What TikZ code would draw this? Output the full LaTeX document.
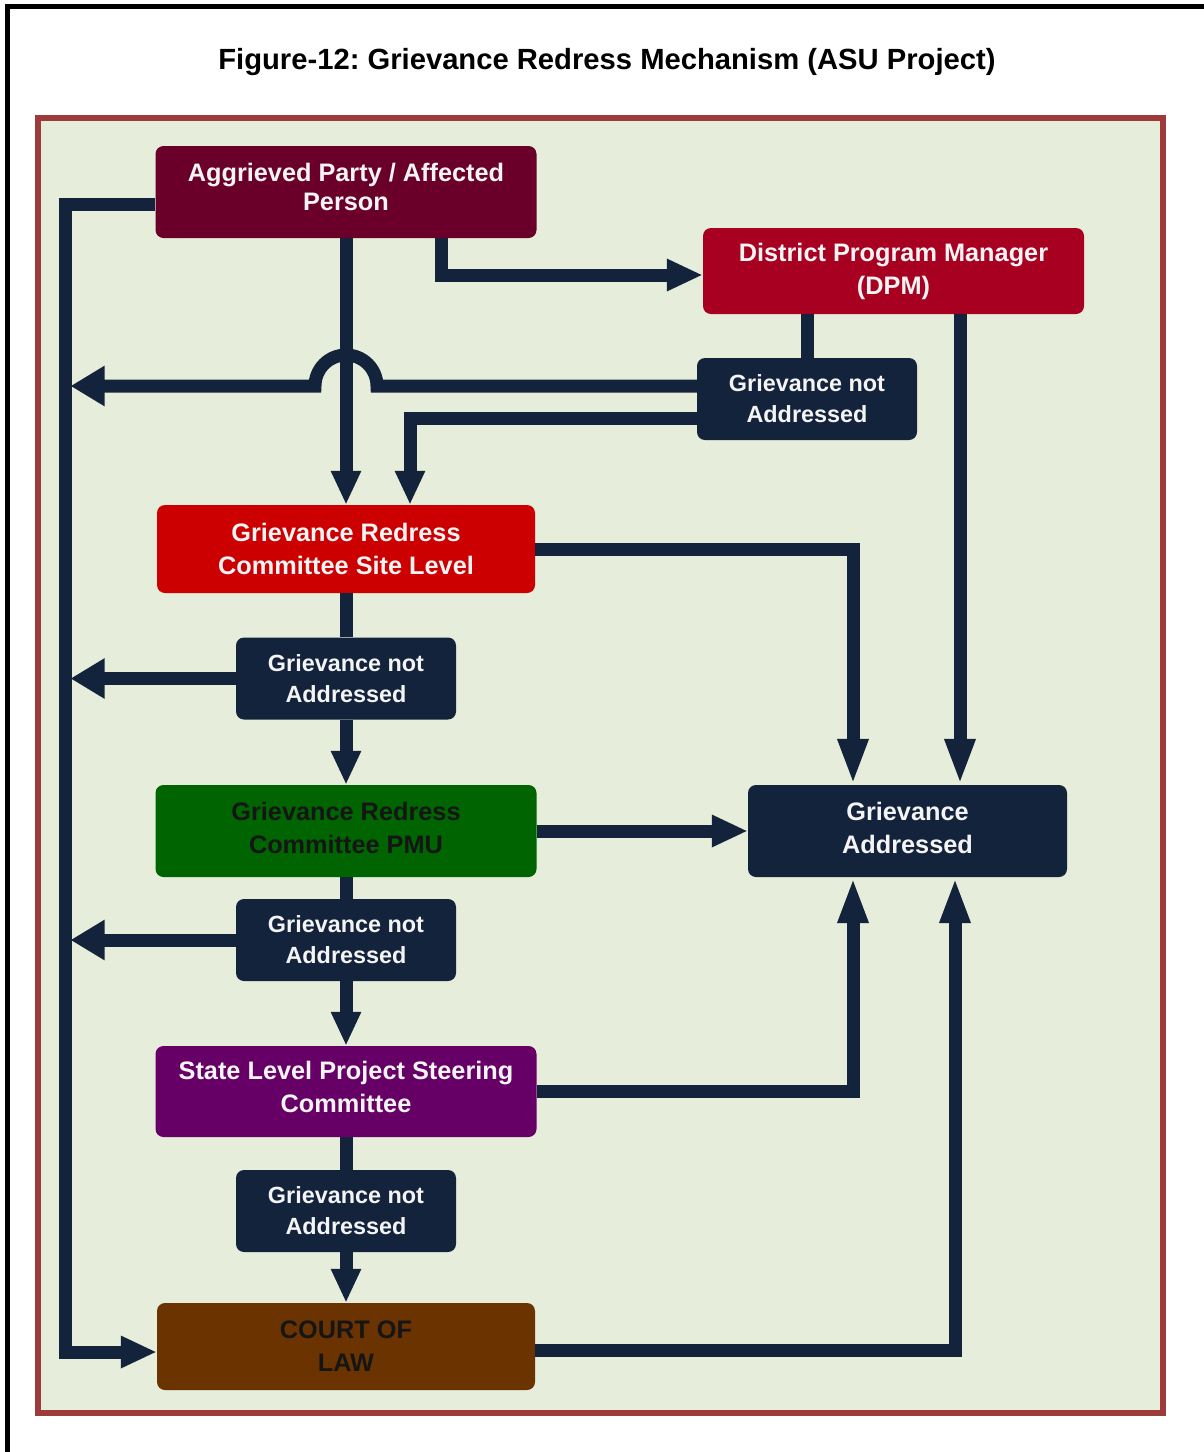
\documentclass[tikz,border=0pt]{standalone}
\usepackage{fontspec}
\setmainfont{Liberation Sans}
\usetikzlibrary{arrows.meta}
\frenchspacing
\definecolor{navy}{HTML}{13233B}
\definecolor{framered}{HTML}{9E3A3A}
\definecolor{framefill}{HTML}{E6EDDB}
\definecolor{aggcol}{HTML}{6A0029}
\definecolor{dpmcol}{HTML}{A80020}
\definecolor{sitecol}{HTML}{CC0000}
\definecolor{pmucol}{HTML}{006400}
\definecolor{slcol}{HTML}{660066}
\definecolor{courtcol}{HTML}{6B3300}
\definecolor{txtwhite}{HTML}{F4F4F4}
\definecolor{txtdark}{HTML}{151515}
\begin{document}
\begin{tikzpicture}[x=1pt,y=-1pt,
  box/.style={rounded corners=8pt, inner sep=0pt, align=center, text=txtwhite,
    font=\fontsize{25.3}{33}\selectfont\bfseries},
  gbox/.style={box, fill=navy, minimum width=220pt, minimum height=82pt,
    font=\fontsize{23.4}{31}\selectfont\bfseries},
  conn/.style={draw=navy, line width=13pt, line join=miter},
  arrR/.style={-{Triangle[width=30pt,length=36pt]}},
  arrL/.style={-{Triangle[width=38pt,length=34pt]}},
  arrD/.style={-{Triangle[width=28pt,length=34pt]}},
  arrG/.style={-{Triangle[width=28pt,length=46pt]}}]
\useasboundingbox (0,0) rectangle (1203,1452);
\fill[white] (0,0) rectangle (1203,1452);
% outer black border
\draw[black, line width=5pt] (7.5,1460) -- (7.5,6.5) -- (1210,6.5);
% title
\node[font=\fontsize{29.2}{35}\selectfont\bfseries] (title) at (607,62) {Figure-12: Grievance Redress Mechanism (ASU Project)};
% frame
\draw[draw=framered, fill=framefill, line width=6pt] (38,118) rectangle (1163,1413);

% nodes
\node[box, fill=aggcol, minimum width=381pt, minimum height=92pt, text depth=11pt,
  font=\fontsize{25.3}{29}\selectfont\bfseries] (agg) at (346,192) {Aggrieved Party / Affected\\Person};
\node[box, fill=dpmcol, minimum width=381pt, minimum height=86pt] (dpm) at (893.5,271) {District Program Manager\\(DPM)};
\node[gbox] (gna1) at (807,399) {Grievance not\\Addressed};
\node[box, fill=sitecol, minimum width=378pt, minimum height=88pt] (site) at (346,549) {Grievance Redress\\Committee Site Level};
\node[gbox] (gna2) at (346,678.5) {Grievance not\\Addressed};
\node[box, fill=pmucol, text=txtdark, minimum width=381pt, minimum height=92pt, text depth=7pt] (pmu) at (346,831) {Grievance Redress\\Committee PMU};
\node[box, fill=navy, minimum width=319pt, minimum height=92pt, text depth=7pt] (ga) at (907.5,831) {Grievance\\Addressed};
\node[gbox] (gna3) at (346,940) {Grievance not\\Addressed};
\node[box, fill=slcol, minimum width=381pt, minimum height=91pt, text depth=9pt] (sl) at (346,1091.5) {State Level Project Steering\\Committee};
\node[gbox] (gna4) at (346,1211) {Grievance not\\Addressed};
\node[box, fill=courtcol, text=txtdark, minimum width=378pt, minimum height=87pt] (court) at (346,1346.5) {COURT OF\\LAW};

% trunk coordinates
\coordinate (lt) at (65,204);
\coordinate (lb) at (65,1352);
\coordinate (tr) at (70.5,0);
\coordinate (hopend) at (70.5,386);

% left trunk from aggrieved to court
\draw[conn, arrR] ([yshift=-12pt]agg.west) -- (lt) -- (lb) -- ([yshift=-5.5pt]court.west);
% main chain
\draw[conn, arrD] (agg.south) -- (site.north);
\draw[conn] (site.south) -- (gna2.north);
\draw[conn, arrD] (gna2.south) -- (pmu.north);
\draw[conn] (pmu.south) -- (gna3.north);
\draw[conn, arrD] (gna3.south) -- (sl.north);
\draw[conn] (sl.south) -- (gna4.north);
\draw[conn, arrD] (gna4.south) -- (court.north);
% aggrieved to DPM
\draw[conn, arrR] ([xshift=95pt]agg.south) |- ([yshift=-4pt]dpm.west);
% DPM to gna1 and GA
\draw[conn] (gna1.north) -- (gna1.north |- dpm.south);
\draw[conn, arrG] ([xshift=66.5pt]dpm.south) -- ([xshift=52.5pt]ga.north);
% gna1 back to trunk with hop
\draw[conn, arrL] ([yshift=13pt]gna1.west) -- (377,386) arc[start angle=0, end angle=180, radius=31pt] -- (hopend);
\draw[conn, arrD] ([yshift=-19pt]gna1.west) -| ([xshift=64pt]site.north);
% site to GA
\draw[conn, arrG] (site.east) -| ([xshift=-54.5pt]ga.north);
% not addressed to trunk
\draw[conn, arrL] (gna2.west) -- (tr |- gna2.west);
\draw[conn, arrL] (gna3.west) -- (tr |- gna3.west);
% PMU to GA
\draw[conn, arrR] (pmu.east) -- (ga.west);
% SL to GA
\draw[conn, arrG] (sl.east) -| ([xshift=-54.5pt]ga.south);
% court to GA
\draw[conn, arrG] ([yshift=-3.5pt]court.east) -| ([xshift=47.5pt]ga.south);
\end{tikzpicture}
\end{document}
